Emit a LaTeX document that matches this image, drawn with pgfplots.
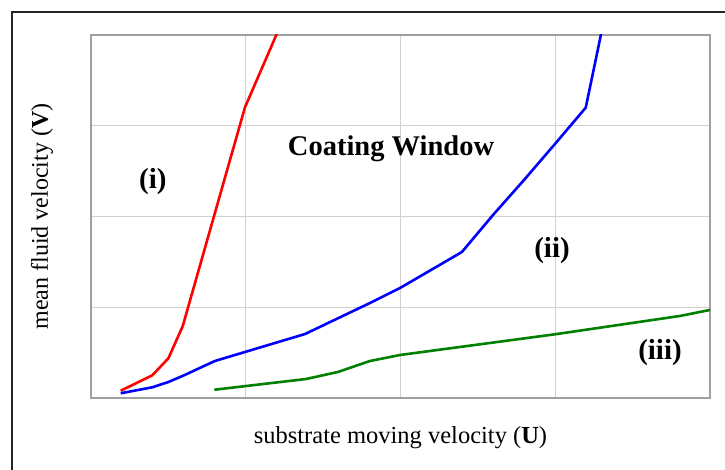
\documentclass[border=0pt]{standalone}
\usepackage{pgfplots}
\pgfplotsset{compat=1.18}
\usepackage{fontspec}
\setmainfont{Liberation Serif}
\definecolor{axgray}{HTML}{A0A0A0}
\definecolor{gridgray}{HTML}{D0D0D0}
\definecolor{dgreen}{HTML}{008000}
\begin{document}
\begin{tikzpicture}[x=1pt,y=1pt]
\useasboundingbox (-91,-72) rectangle (634,398);
\draw[line width=1.3pt, black!85] (-79,-80) -- (-79,386) -- (640,386);
\begin{axis}[
  at={(0,0)}, anchor=south west,
  scale only axis, width=619pt, height=363pt,
  xmin=0, xmax=4, ymin=0, ymax=4,
  xtick={1,2,3}, ytick={1,2,3},
  xticklabels={}, yticklabels={},
  major tick length=0pt,
  grid=major,
  major grid style={gridgray, line width=0.9pt},
  axis line style={axgray, line width=1.8pt},
  clip=true,
  xlabel={substrate moving velocity (\textbf{U})},
  ylabel={mean fluid velocity (\textbf{V})},
  xlabel style={at={(rel axis cs:0.5,0)}, anchor=center, yshift=-40pt, font=\fontsize{24.5}{28}\selectfont},
  ylabel style={at={(rel axis cs:0,0.5)}, anchor=center, rotate=0, yshift=49pt, font=\fontsize{24}{28}\selectfont},
  every axis plot/.append style={line width=2.6pt, line join=round},
]
\addplot[red] coordinates {
(0.192,0.080) (0.396,0.250) (0.500,0.437) (0.593,0.793) (0.995,3.203) (1.200,4.01) (1.22,4.1)};
\addplot[blue] coordinates {
(0.192,0.052) (0.396,0.118) (0.500,0.176) (0.596,0.246) (0.801,0.408) (1.383,0.705)
(1.803,1.047) (1.997,1.212) (2.397,1.609) (2.598,2.017) (2.798,2.402) (2.998,2.799)
(3.197,3.199) (3.296,4.01) (3.31,4.1)};
\addplot[dgreen] coordinates {
(0.797,0.091) (1.389,0.209) (1.596,0.287) (1.803,0.408) (1.997,0.474) (2.998,0.702)
(3.806,0.904) (4.0,0.970)};
\node[font=\fontsize{29}{33}\selectfont\bfseries] at (axis cs:0.40,2.38) {(i)};
\node[font=\fontsize{28.5}{33}\selectfont\bfseries] at (axis cs:1.939,2.744) {Coating Window};
\node[font=\fontsize{29}{33}\selectfont\bfseries] at (axis cs:2.979,1.62) {(ii)};
\node[font=\fontsize{29}{33}\selectfont\bfseries] at (axis cs:3.677,0.496) {(iii)};
\end{axis}
\end{tikzpicture}
\end{document}
